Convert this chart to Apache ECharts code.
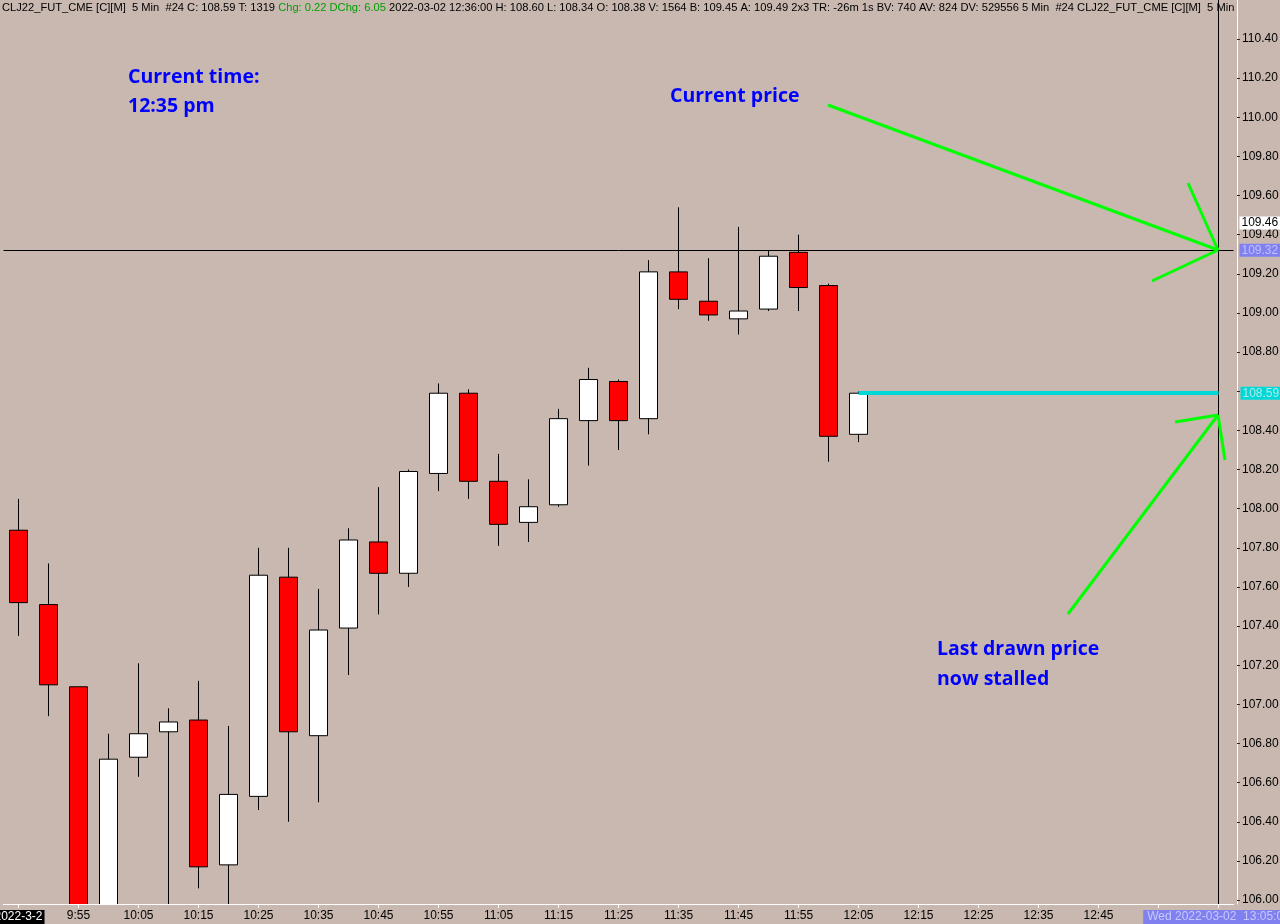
<!DOCTYPE html>
<html><head><meta charset="utf-8">
<script src="https://cdn.jsdelivr.net/npm/echarts@6/dist/echarts.min.js"></script>
<style>html,body{margin:0;padding:0;background:#C8B8B0;overflow:hidden}#c{width:1280px;height:924px}</style>
</head><body><div id="c"></div>
<script>
const categories = ['9:45','9:50','9:55','10:00','10:05','10:10','10:15','10:20','10:25','10:30',
  '10:35','10:40','10:45','10:50','10:55','11:00','11:05','11:10','11:15','11:20',
  '11:25','11:30','11:35','11:40','11:45','11:50','11:55','12:00','12:05','12:10',
  '12:15','12:20','12:25','12:30','12:35','12:40','12:45','12:50','12:55','13:00','13:05'];
const opens  = [107.89,107.51,107.09,105.85,106.73,106.86,106.92,106.18,106.53,107.65,106.84,107.39,107.83,107.67,108.18,108.59,108.14,107.93,108.02,108.45,108.65,108.46,109.21,109.06,108.97,109.02,109.31,109.14,108.38];
const closes = [107.52,107.10,105.80,106.72,106.85,106.91,106.17,106.54,107.66,106.86,107.38,107.84,107.67,108.19,108.59,108.14,107.92,108.01,108.46,108.66,108.45,109.21,109.07,108.99,109.01,109.29,109.13,108.37,108.59];
const lows   = [107.35,106.94,105.70,105.75,106.63,105.90,106.06,105.95,106.46,106.40,106.50,107.15,107.46,107.60,108.09,108.05,107.81,107.83,108.01,108.22,108.30,108.38,109.02,108.96,108.89,109.01,109.01,108.24,108.34];
const highs  = [108.05,107.72,107.09,106.85,107.21,106.98,107.12,106.89,107.80,107.80,107.59,107.90,108.11,108.20,108.64,108.61,108.28,108.15,108.51,108.72,108.66,109.27,109.54,109.28,109.44,109.32,109.40,109.15,108.60];
const yTicks = [106.00,106.20,106.40,106.60,106.80,107.00,107.20,107.40,107.60,107.80,108.00,108.20,108.40,108.60,108.80,109.00,109.20,109.40,109.60,109.80,110.00,110.20,110.40];
const hiddenTickLabel = 108.60;
const crossPrice = 109.32;
const crossTime = '13:05';
const lastPrice = 108.59;
const lastTime = '12:05';
const bidPrice = 109.46;
const dateLabel = '2022-3-2';
const crossTimeLabel = 'Wed 2022-03-02  13:05:00';
const headerParts = [
  ['k','CLJ22_FUT_CME [C][M]  5 Min  #24 C: 108.59 T: 1319 '],
  ['g','Chg: 0.22 DChg: 6.05'],
  ['k',' 2022-03-02 12:36:00 H: 108.60 L: 108.34 O: 108.38 V: 1564 B: 109.45 A: 109.49 2x3 TR: -26m 1s BV: 740 AV: 824 DV: 529556 5 Min  #24 CLJ22_FUT_CME [C][M]  5 Min']
];

const candleData = opens.map((o,i)=>[o, closes[i], lows[i], highs[i]]);
const axisFont = 'Liberation Sans';
const chart = echarts.init(document.getElementById('c'), null, {renderer:'canvas'});
const green = '#00FF00';
const blueFont = 'bold 19.5px "Open Sans"';
const bg = '#C8B8B0';
chart.setOption({
  animation:false,
  backgroundColor:bg,
  grid:{left:3.5, right:46.5, top:0, bottom:20, containLabel:false, outerBoundsMode:'none'},
  xAxis:{
    type:'category', data:categories, boundaryGap:true, z:6,
    axisLine:{show:true, lineStyle:{color:'#FFFFFF', width:1}},
    axisTick:{show:true, alignWithLabel:true, interval:1, length:4, lineStyle:{color:'#FFFFFF'}},
    axisLabel:{interval:1, color:'#000', fontFamily:axisFont, fontSize:12, margin:6,
      formatter:(v,i)=>{ if(i===0) return '{d|'+dateLabel+'}'; if(i===categories.length-1) return '{w|'+crossTimeLabel+'}'; if(i===categories.length-3) return ''; return v; },
      rich:{
        d:{backgroundColor:'#000', color:'#FFF', fontFamily:axisFont, fontSize:12, padding:[1,2,1,2]},
        w:{backgroundColor:'#8080F0', color:'#C8C8FF', fontFamily:axisFont, fontSize:12, padding:[1,4,1,4]}
      }},
    splitLine:{show:false}
  },
  yAxis:{
    type:'value', position:'right', offset:3.5, min:105.98, max:110.5993, scale:true, z:6,
    axisLine:{show:true, lineStyle:{color:'#FFFFFF', width:1}},
    axisTick:{show:true, length:3, lineStyle:{color:'#222'}, customValues:yTicks},
    axisLabel:{color:'#000', fontFamily:axisFont, fontSize:12, margin:5, customValues:yTicks,
      formatter:v=> Math.abs(v-hiddenTickLabel)<1e-6 ? '' : v.toFixed(2)},
    splitLine:{show:false}
  },
  series:[{
    type:'candlestick', data:candleData, barWidth:18, clip:true, z:2,
    itemStyle:{color:'#FFFFFF', color0:'#FF0000', borderColor:'#000', borderColor0:'#000', borderWidth:1},
    markLine:{
      silent:true, symbol:['none','none'], animation:false, z:8,
      data:[
        {yAxis:crossPrice, lineStyle:{color:'#000', width:1, type:'solid'},
          label:{show:true, position:'end', distance:6, formatter:crossPrice.toFixed(2), backgroundColor:'#8080F0', color:'#C0C0FF', fontFamily:axisFont, fontSize:12, padding:[1,2,0,2]}},
        {yAxis:bidPrice, lineStyle:{color:'rgba(0,0,0,0)', width:0},
          label:{show:true, position:'end', distance:6, formatter:bidPrice.toFixed(2), backgroundColor:'#FFFFFF', color:'#000', fontFamily:axisFont, fontSize:12, padding:[1,2,0,2]}},
        {xAxis:crossTime, lineStyle:{color:'#000', width:1, type:'solid'}, label:{show:false}},
        [{coord:[lastTime, lastPrice]},{coord:[crossTime, lastPrice],
          lineStyle:{color:'#00D8D8', width:4, type:'solid'},
          label:{show:true, position:'end', distance:22, formatter:lastPrice.toFixed(2), backgroundColor:'#00D8D8', color:'#B0E8E8', fontFamily:axisFont, fontSize:12, padding:[1,2,0,2]}}]
      ]
    }
  }],
  graphic:[
    {type:'rect', shape:{x:0, y:904.5, width:1280, height:20}, style:{fill:bg}, z:5, silent:true},
    {type:'text', x:2, y:8, z:10, style:{text: headerParts.map(p=>'{'+p[0]+'|'+p[1]+'}').join(''), verticalAlign:'middle', textVerticalAlign:'middle',
      rich:{k:{fill:'#000', color:'#000', fontFamily:axisFont, fontSize:11.15}, g:{fill:'#00A000', color:'#00A000', fontFamily:axisFont, fontSize:11.15}}}},
    {type:'text', x:128, y:77, z:10, style:{text:'Current time:', fill:'#0000FF', font:blueFont, verticalAlign:'middle', textVerticalAlign:'middle'}},
    {type:'text', x:128, y:106, z:10, style:{text:'12:35 pm', fill:'#0000FF', font:blueFont, verticalAlign:'middle', textVerticalAlign:'middle'}},
    {type:'text', x:670, y:96, z:10, style:{text:'Current price', fill:'#0000FF', font:blueFont, verticalAlign:'middle', textVerticalAlign:'middle'}},
    {type:'text', x:937, y:649, z:10, style:{text:'Last drawn price', fill:'#0000FF', font:blueFont, verticalAlign:'middle', textVerticalAlign:'middle'}},
    {type:'text', x:937, y:679, z:10, style:{text:'now stalled', fill:'#0000FF', font:blueFont, verticalAlign:'middle', textVerticalAlign:'middle'}},
    {type:'line', z:10, shape:{x1:828,y1:105,x2:1218,y2:250}, style:{stroke:green, lineWidth:3}},
    {type:'line', z:10, shape:{x1:1188,y1:183,x2:1218,y2:250}, style:{stroke:green, lineWidth:3}},
    {type:'line', z:10, shape:{x1:1152,y1:281,x2:1218,y2:250}, style:{stroke:green, lineWidth:3}},
    {type:'line', z:10, shape:{x1:1068,y1:614,x2:1218,y2:415}, style:{stroke:green, lineWidth:3}},
    {type:'line', z:10, shape:{x1:1175,y1:422,x2:1218,y2:415}, style:{stroke:green, lineWidth:3}},
    {type:'line', z:10, shape:{x1:1225,y1:460,x2:1218,y2:415}, style:{stroke:green, lineWidth:3}}
  ]
});
</script></body></html>
